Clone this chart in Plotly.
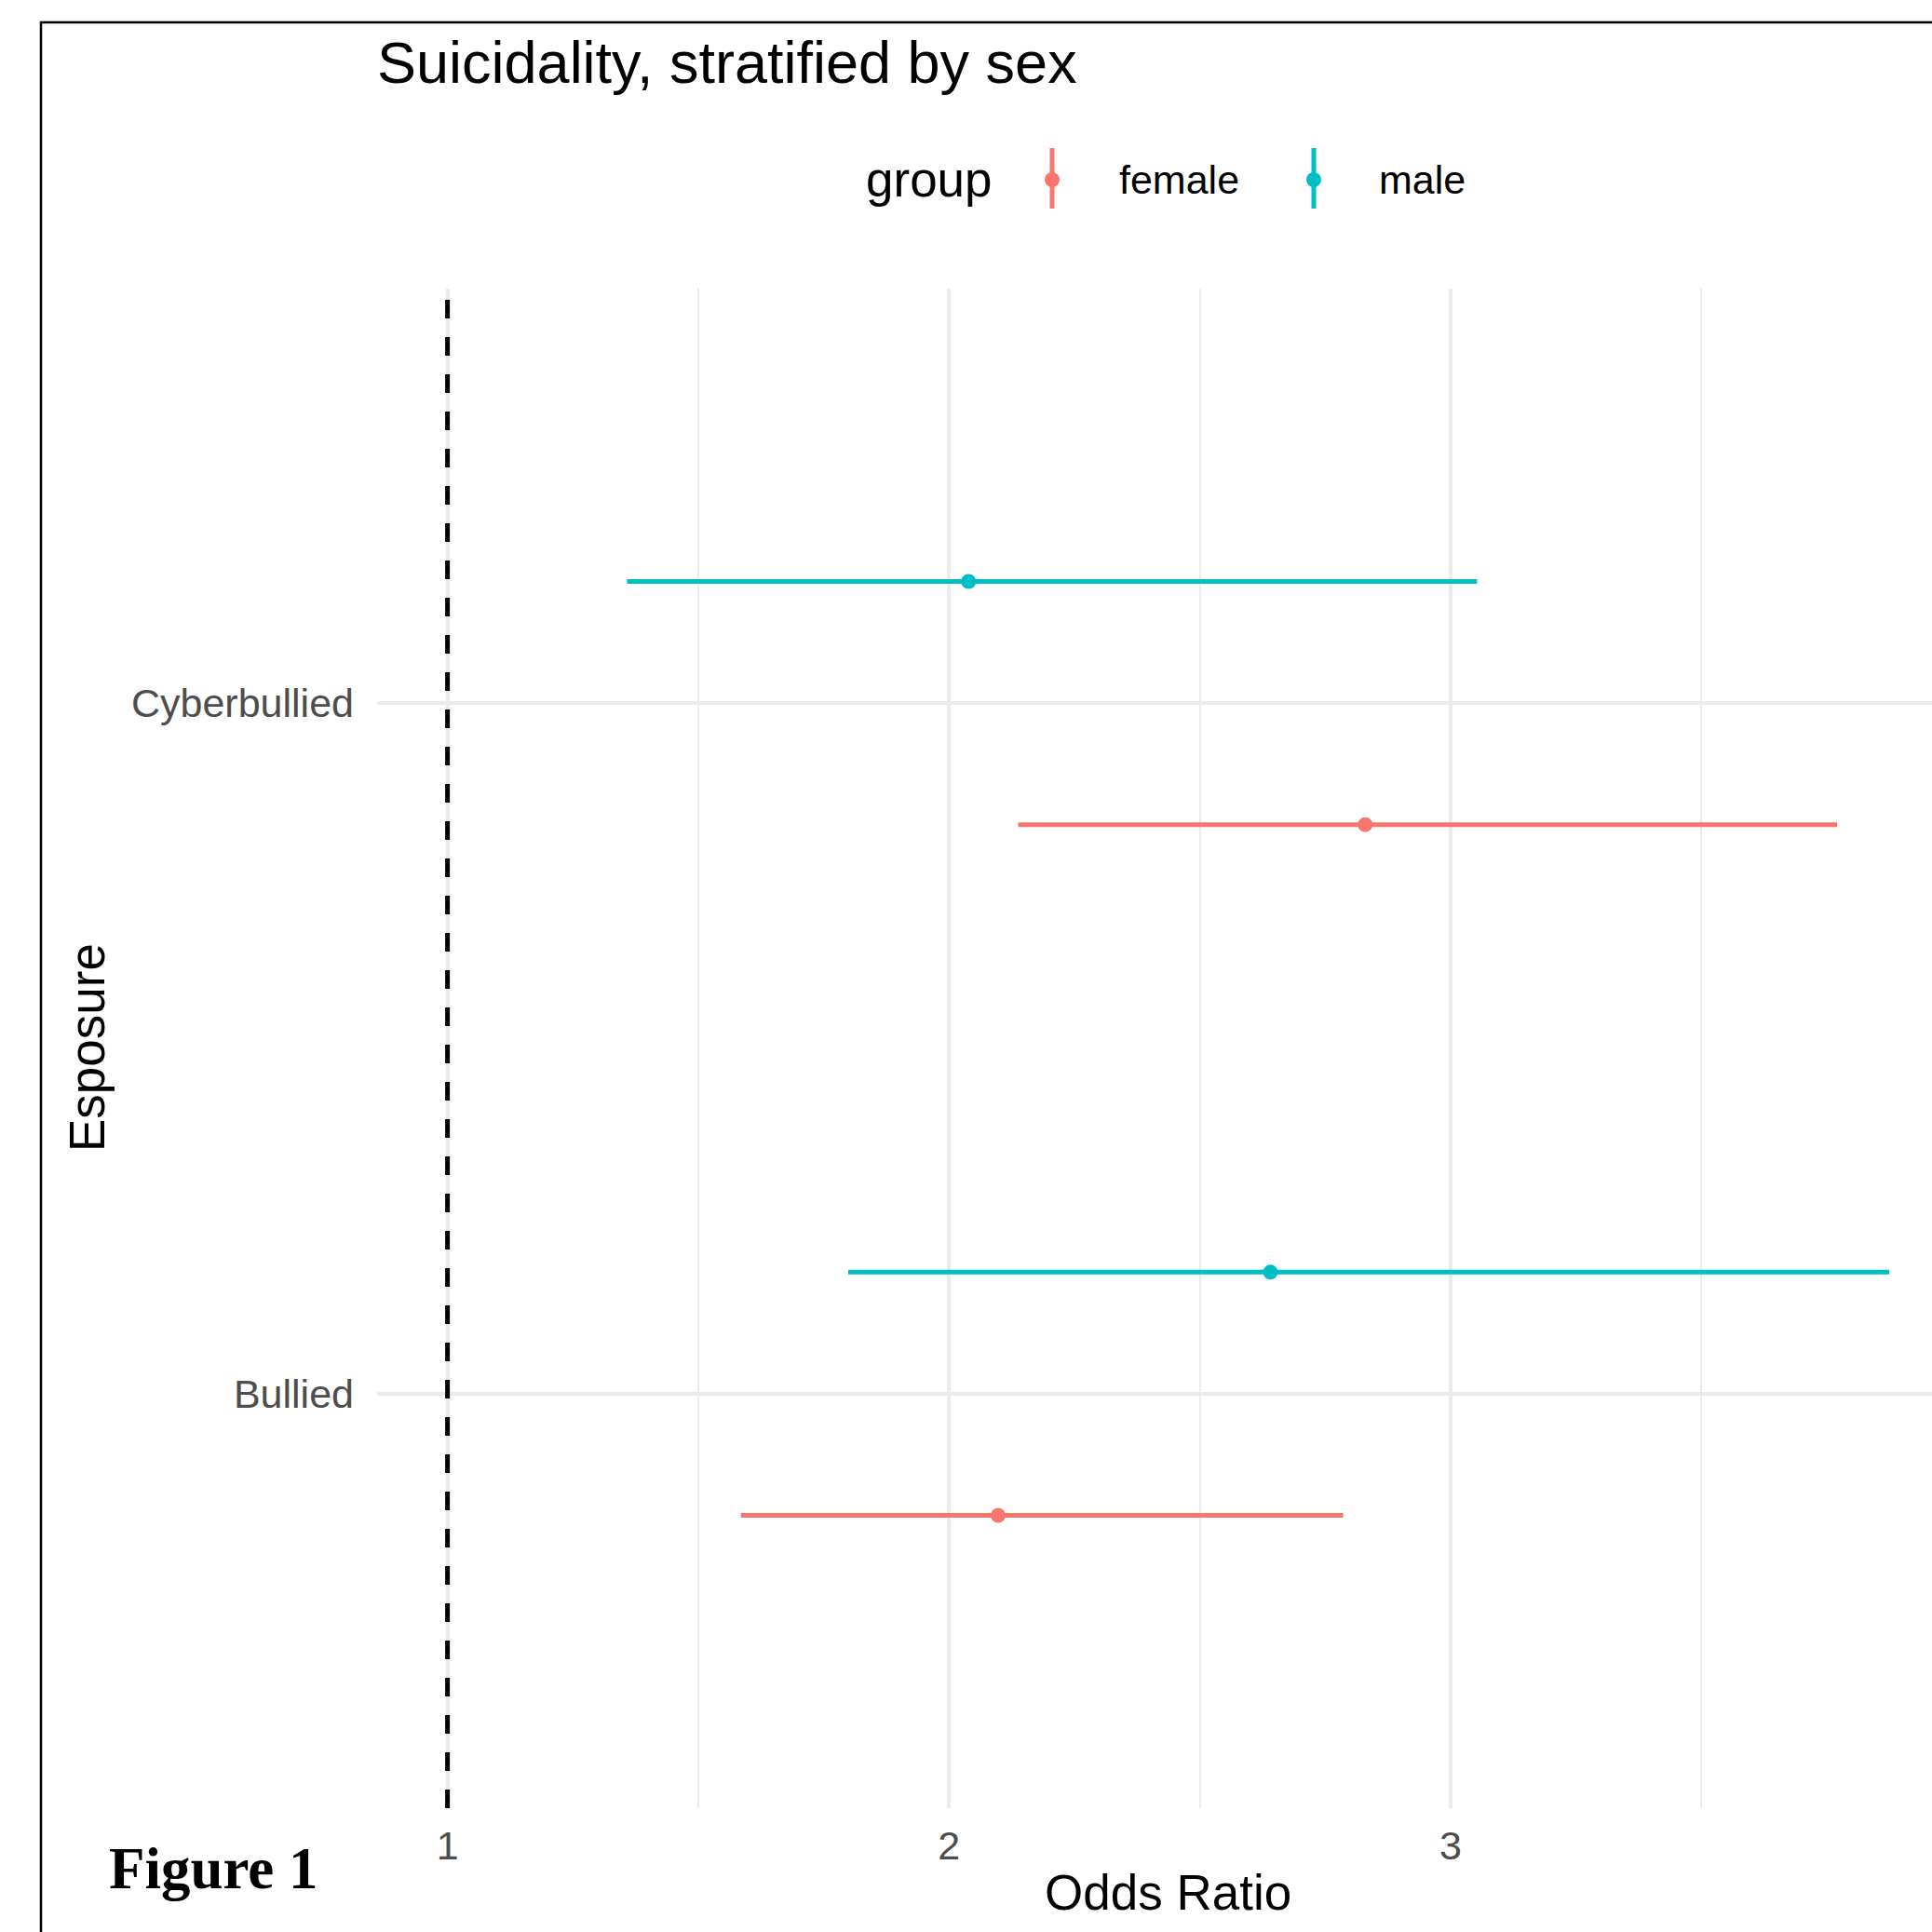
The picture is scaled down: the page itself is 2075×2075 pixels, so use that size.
import plotly.graph_objects as go

# ---- data ----
exposures = ["Bullied", "Cyberbullied"]
groups = ["female", "male"]
colors = {"female": "#F8766D", "male": "#00BFC4"}
or_female = [2.098, 2.830]
lo_female = [1.585, 2.138]
hi_female = [2.786, 3.771]
or_male = [2.641, 2.039]
lo_male = [1.799, 1.358]
hi_male = [3.875, 3.053]
x_ticks = [1, 2, 3]
x_minor = [1.5, 2.5, 3.5]

# ---- geometry (pixels) ----
VIEW = 2075
W_FIG, H_FIG = VIEW, VIEW
L, R, T, B = 405, VIEW, 310, 1942
PW, PH = R - L, B - T


def px(x):
    return (x - L) / PW


def py(y):
    return (B - y) / PH


FONT = "Liberation Sans, Arial, Helvetica, sans-serif"
dodge = {"female": -0.176, "male": 0.176}

fig = go.Figure()
series = {
    "female": (or_female, lo_female, hi_female),
    "male": (or_male, lo_male, hi_male),
}
for g in groups:
    orv, lo, hi = series[g]
    ys = [i + 1 + dodge[g] for i in range(len(exposures))]
    fig.add_trace(go.Scatter(
        x=orv, y=ys, mode="markers", name=g, showlegend=False,
        marker=dict(color=colors[g], size=16),
        error_x=dict(type="data", symmetric=False,
                     array=[h - o for h, o in zip(hi, orv)],
                     arrayminus=[o - l for o, l in zip(orv, lo)],
                     color=colors[g], thickness=5, width=0),
    ))

shapes = []
# reference line at OR = 1
shapes.append(dict(type="line", xref="x", yref="paper", x0=1, x1=1, y0=0, y1=1,
                   line=dict(color="black", width=5, dash="20px,20px"), layer="above"))
# outer border frame
shapes.append(dict(type="rect", xref="paper", yref="paper",
                   x0=px(44), x1=px(2200), y0=py(24), y1=py(2200),
                   line=dict(color="black", width=2.5), layer="above"))

annotations = []
# legend (manual)
annotations.append(dict(text="group", xref="paper", yref="paper", x=px(928), y=py(193),
                        xanchor="left", yanchor="middle", showarrow=False,
                        font=dict(family=FONT, size=53, color="black")))
leg_pos = {"female": (1130, 1200), "male": (1411, 1479)}
for g in groups:
    sx, tx = leg_pos[g]
    shapes.append(dict(type="line", xref="paper", yref="paper", x0=px(sx), x1=px(sx),
                       y0=py(159), y1=py(224), line=dict(color=colors[g], width=5)))
    shapes.append(dict(type="circle", xref="paper", yref="paper",
                       x0=px(sx - 8), x1=px(sx + 8), y0=py(201), y1=py(185),
                       line=dict(width=0), fillcolor=colors[g]))
    annotations.append(dict(text=g, xref="paper", yref="paper", x=px(tx), y=py(193),
                            xanchor="left", yanchor="middle", showarrow=False,
                            font=dict(family=FONT, size=43, color="black")))

# axis titles
annotations.append(dict(text="Odds Ratio", xref="paper", yref="paper", x=px(1254), y=py(2033),
                        xanchor="center", yanchor="middle", showarrow=False,
                        font=dict(family=FONT, size=53, color="black")))
annotations.append(dict(text="Esposure", xref="paper", yref="paper", x=px(93), y=py(1125),
                        xanchor="center", yanchor="middle", showarrow=False, textangle=-90,
                        font=dict(family=FONT, size=53, color="black")))
annotations.append(dict(text="<b>Figure 1</b>", xref="paper", yref="paper", x=px(115), y=py(2007),
                        xanchor="left", yanchor="middle", showarrow=False,
                        font=dict(family="Liberation Serif, Times New Roman, serif", size=63, color="black")))

fig.update_layout(
    width=W_FIG, height=H_FIG,
    margin=dict(l=L, r=W_FIG - R, t=T, b=H_FIG - B, pad=0),
    paper_bgcolor="white", plot_bgcolor="white",
    title=dict(text="Suicidality, stratified by sex", xref="paper", x=0, xanchor="left",
               yref="container", y=1 - 67 / H_FIG, yanchor="middle",
               font=dict(family=FONT, size=63, color="black")),
    shapes=shapes, annotations=annotations,
    xaxis=dict(range=[0.8596, 3.9602], tickvals=x_ticks, ticktext=[str(v) for v in x_ticks],
               showgrid=True, gridcolor="#EBEBEB", gridwidth=3.7, zeroline=False,
               showline=False, ticks="", ticklabelstandoff=11,
               tickfont=dict(family=FONT, size=43, color="#4D4D4D"),
               minor=dict(tickvals=x_minor, showgrid=True, gridcolor="#EBEBEB", gridwidth=1.9, ticks="")),
    yaxis=dict(range=[0.4, 2.6], tickvals=[1, 2], ticktext=exposures,
               showgrid=True, gridcolor="#EBEBEB", gridwidth=3.7, zeroline=False,
               showline=False, ticks="", ticklabelstandoff=24,
               tickfont=dict(family=FONT, size=43, color="#4D4D4D")),
    showlegend=False,
)

fig.write_html(
    "out.html",
    config={"displayModeBar": False},
    post_script="document.body.style.margin='0px';document.body.style.overflow='hidden';",
)
